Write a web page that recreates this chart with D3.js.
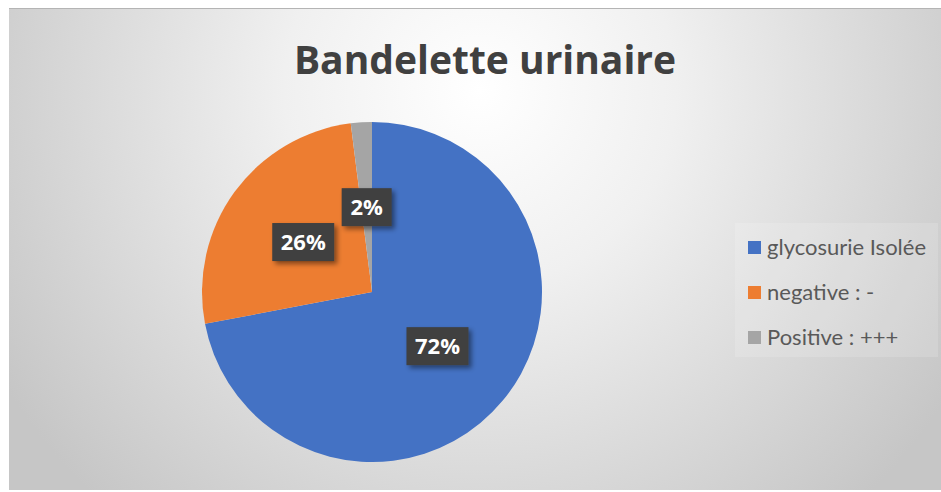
<!DOCTYPE html>
<html>
<head>
<meta charset="utf-8">
<script src="https://cdn.jsdelivr.net/npm/d3@7"></script>
<style>
  body { margin: 0; background: #fff; }
  svg { display: block; }
</style>
</head>
<body>
<script>
// data
var categories = ["glycosurie Isolée", "negative : -", "Positive : +++"];
var values = [72, 26, 2];
var colors = ["#4472C4", "#ED7D31", "#A5A5A5"];
var title = "Bandelette urinaire";

var width = 941, height = 492;

var svg = d3.select("body").append("svg")
  .attr("width", width)
  .attr("height", height);

var defs = svg.append("defs");

// background gradient, white near the title, grey at the edges
var grad = defs.append("radialGradient")
  .attr("id", "bg")
  .attr("gradientUnits", "userSpaceOnUse")
  .attr("cx", 480).attr("cy", 90).attr("r", 560);
grad.append("stop").attr("offset", "0%").attr("stop-color", "#ffffff");
grad.append("stop").attr("offset", "35%").attr("stop-color", "#f0f0f0");
grad.append("stop").attr("offset", "100%").attr("stop-color", "#c6c6c6");

var shadow = defs.append("filter").attr("id", "shadow")
  .attr("x", "-30%").attr("y", "-30%").attr("width", "170%").attr("height", "170%");
shadow.append("feDropShadow")
  .attr("dx", 3).attr("dy", 3).attr("stdDeviation", 2.5)
  .attr("flood-color", "#000").attr("flood-opacity", 0.45);

// chart area
svg.append("rect")
  .attr("x", 9).attr("y", 8)
  .attr("width", width - 9).attr("height", 482)
  .attr("fill", "url(#bg)");
svg.append("line")
  .attr("x1", 9).attr("x2", width)
  .attr("y1", 8.5).attr("y2", 8.5)
  .attr("stroke", "#b4b4b4");

// title
svg.append("text")
  .attr("x", 485)
  .attr("y", 74)
  .attr("text-anchor", "middle")
  .style("font-family", "'Open Sans', sans-serif")
  .style("font-weight", "bold")
  .style("font-size", "39px")
  .style("fill", "#404040")
  .text(title);

// pie
var cx = 372, cy = 292, radius = 170;

var pie = d3.pie().sort(null).value(function(d) { return d; });
var arc = d3.arc().innerRadius(0).outerRadius(radius);
var labelArc = d3.arc().innerRadius(85).outerRadius(85);

var g = svg.append("g")
  .attr("transform", "translate(" + cx + "," + cy + ")");

var arcs = pie(values);

g.selectAll(".slice")
  .data(arcs)
  .enter().append("path")
  .attr("class", "slice")
  .attr("d", arc)
  .attr("fill", function(d, i) { return colors[i]; });

// data labels
var labels = g.selectAll(".lbl")
  .data(arcs)
  .enter().append("g")
  .attr("class", "lbl")
  .attr("transform", function(d) { return "translate(" + labelArc.centroid(d) + ")"; });

labels.each(function(d) {
  var txt = d.data + "%";
  var w = txt.length === 3 ? 62 : 50;
  d3.select(this).append("rect")
    .attr("x", -w / 2).attr("y", -19)
    .attr("width", w).attr("height", 38)
    .attr("fill", "#404040")
    .attr("filter", "url(#shadow)");
  d3.select(this).append("text")
    .attr("y", 8)
    .attr("text-anchor", "middle")
    .style("font-family", "'Open Sans', sans-serif")
    .style("font-weight", "bold")
    .style("font-size", "22px")
    .style("fill", "#fff")
    .text(txt);
});

// legend
var legend = svg.append("g").attr("transform", "translate(735,223)");
legend.append("rect")
  .attr("width", 203).attr("height", 134)
  .attr("fill", "#ffffff").attr("opacity", 0.15);

var item = legend.selectAll(".item")
  .data(categories)
  .enter().append("g")
  .attr("class", "item")
  .attr("transform", function(d, i) { return "translate(13," + (24.5 + i * 45) + ")"; });

item.append("rect")
  .attr("x", 0).attr("y", -6.5)
  .attr("width", 13).attr("height", 13)
  .attr("fill", function(d, i) { return colors[i]; });

item.append("text")
  .attr("x", 19).attr("y", 7)
  .style("font-family", "Lato, sans-serif")
  .style("font-size", "22px")
  .style("fill", "#595959")
  .text(function(d) { return d; });
</script>
</body>
</html>
